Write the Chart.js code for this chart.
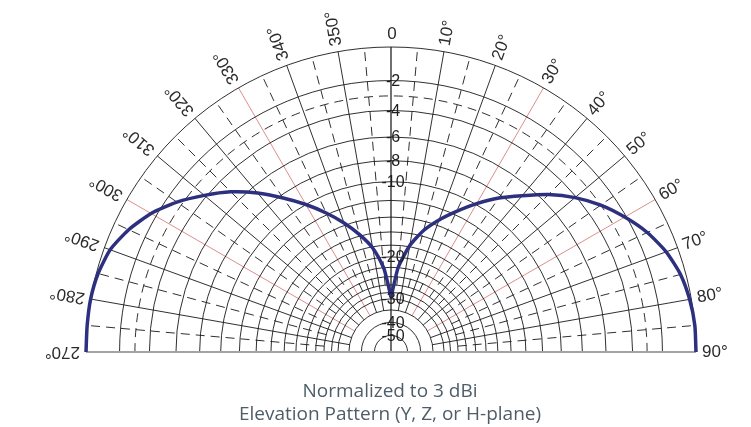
<!DOCTYPE html>
<html>
<head>
<meta charset="utf-8">
<script src="https://cdn.jsdelivr.net/npm/chart.js@4"></script>
<style>
html, body { margin: 0; padding: 0; background: #fff; }
#wrap { position: relative; width: 751px; height: 427px; }
#patternChart { position: absolute; left: 0; top: 0; }
.caption { position: absolute; left: 0; width: 780px; text-align: center; font-family: "Open Sans"; font-size: 19px; color: #4f5d68; line-height: 20px; }
</style>
</head>
<body>
<div id="wrap">
    <canvas id="patternChart" width="751" height="427"></canvas>
    <div class="caption" style="top:380px">Normalized to 3 dBi</div>
    <div class="caption" style="top:403px">Elevation Pattern (Y, Z, or H-plane)</div>
</div>
<script>
// 方向图数据：角度(从正上方顺时针, 度) 与 归一化增益(dB)
var leftAngles  = [270, 275, 280, 285, 290, 295, 300, 305, 310, 315, 320, 325, 330, 335, 340, 345, 350, 355, 357, 360];
var leftGain    = [0, 0, 0, -0.1, -0.35, -0.9, -1.65, -2.65, -3.85, -5.1, -6.6, -8.3, -10.0, -11.8, -13.7, -15.8, -18.2, -22.0, -25, -29.5];
var rightAngles = [0, 3, 5, 10, 15, 20, 25, 30, 35, 40, 45, 50, 55, 60, 65, 70, 75, 80, 85, 90];
var rightGain   = [-29.5, -25, -21.8, -17.8, -15.2, -13.3, -11.6, -9.9, -8.3, -6.9, -5.4, -4.1, -3.0, -2.1, -1.3, -0.7, -0.3, -0.1, 0, 0];

// 网格: 圆环(dB) 与 角度刻度
var solidRings  = [0, -2, -4, -6, -8, -10, -12, -14, -16, -18, -20, -22, -24, -26, -28, -30, -34, -40, -50];
var dashedRings = [-3];
var ringLabels  = [-2, -4, -6, -8, -10, -20, -30, -40, -50];
var angleTicks  = [270, 280, 290, 300, 310, 320, 330, 340, 350, 0, 10, 20, 30, 40, 50, 60, 70, 80, 90];
var dashedSpokes = [275, 285, 295, 305, 315, 325, 335, 345, 355, 5, 15, 25, 35, 45, 55, 65, 75, 85];
var redSpokes   = [300, 330, 30, 60];

// ARRL 对数刻度: 每 2 dB 半径乘 0.89
function dbToR(db) {
    return Math.pow(0.89, -db / 2);
}

function toXY(angle, db) {
    var a = angle * Math.PI / 180;
    var r = dbToR(db);
    return { x: r * Math.sin(a), y: r * Math.cos(a) };
}

function buildPoints(angles, gains) {
    var pts = [];
    for (var i = 0; i < angles.length; i++) {
        pts.push(toXY(angles[i], gains[i]));
    }
    return pts;
}

// 画极坐标网格 (用 chart 的 x/y 比例尺换算像素)
var polarGrid = {
    id: 'polarGrid',
    beforeDatasetsDraw: function (chart) {
        var ctx = chart.ctx;
        var xs = chart.scales.x, ys = chart.scales.y;
        var cx = xs.getPixelForValue(0), cy = ys.getPixelForValue(0);
        function px(angle, db) {
            var p = toXY(angle, db);
            return [xs.getPixelForValue(p.x), ys.getPixelForValue(p.y)];
        }
        function rad(db) {
            return xs.getPixelForValue(dbToR(db)) - cx;
        }
        function spoke(angle, fromDb, color, dash) {
            var a = px(angle, fromDb), b = px(angle, 0);
            ctx.strokeStyle = color;
            ctx.setLineDash(dash);
            ctx.beginPath();
            ctx.moveTo(a[0], a[1]);
            ctx.lineTo(b[0], b[1]);
            ctx.stroke();
        }
        ctx.save();
        ctx.lineWidth = 1;

        // 虚线径向线
        dashedSpokes.forEach(function (ang) {
            spoke(ang, -26, 'rgba(25,25,25,0.9)', [9, 6]);
        });
        // 实线径向线
        angleTicks.forEach(function (ang) {
            if (ang === 270 || ang === 90 || ang === 0) return;
            if (redSpokes.indexOf(ang) >= 0) return;
            spoke(ang, -34, 'rgba(25,25,25,0.9)', []);
        });
        redSpokes.forEach(function (ang) {
            spoke(ang, -34, '#dc8e8e', []);
        });

        // 圆环
        ctx.strokeStyle = 'rgba(25,25,25,0.9)';
        ctx.setLineDash([]);
        solidRings.forEach(function (db) {
            ctx.beginPath();
            ctx.arc(cx, cy, rad(db), Math.PI, 2 * Math.PI);
            ctx.stroke();
        });
        ctx.setLineDash([9, 6]);
        dashedRings.forEach(function (db) {
            ctx.beginPath();
            ctx.arc(cx, cy, rad(db), Math.PI, 2 * Math.PI);
            ctx.stroke();
        });
        ctx.setLineDash([]);

        // 0 度轴
        var top = px(0, 0);
        ctx.strokeStyle = '#111';
        ctx.lineWidth = 1.2;
        ctx.beginPath();
        ctx.moveTo(cx, cy);
        ctx.lineTo(top[0], top[1]);
        ctx.stroke();

        // 底边
        var l = px(270, 0), r = px(90, 0);
        ctx.strokeStyle = '#a3a3a3';
        ctx.lineWidth = 2;
        ctx.beginPath();
        ctx.moveTo(l[0], cy);
        ctx.lineTo(r[0], cy);
        ctx.stroke();
        ctx.restore();
    },
    afterDatasetsDraw: function (chart) {
        var ctx = chart.ctx;
        var xs = chart.scales.x, ys = chart.scales.y;
        var cx = xs.getPixelForValue(0), cy = ys.getPixelForValue(0);
        var R = xs.getPixelForValue(1) - cx;
        ctx.save();

        // 角度标签
        ctx.fillStyle = '#2b2b2b';
        ctx.font = '17px "Liberation Sans", Arial, sans-serif';
        ctx.textBaseline = 'middle';
        angleTicks.forEach(function (ang) {
            if (ang === 0) {
                ctx.textAlign = 'center';
                ctx.fillText('0', cx + 1, cy - R - 13);
                return;
            }
            ctx.save();
            ctx.translate(cx, cy);
            ctx.rotate((ang - 90) * Math.PI / 180);
            ctx.textAlign = 'left';
            ctx.fillText(ang + '°', R + 6, 0);
            ctx.restore();
        });

        // dB 标签
        ctx.font = '16px "Liberation Sans", Arial, sans-serif';
        ctx.textAlign = 'center';
        ctx.fillStyle = '#1e1e1e';
        ringLabels.forEach(function (db) {
            var y = ys.getPixelForValue(dbToR(db));
            ctx.fillText(String(db), cx + 2, y + 1);
        });
        ctx.restore();
    }
};

var ctx = document.getElementById('patternChart').getContext('2d');
var lineStyle = {
    showLine: true,
    borderColor: '#2d307e',
    borderWidth: 3.5,
    pointRadius: 0,
    tension: 0.2,
    clip: false
};

var patternChart = new Chart(ctx, {
    type: 'scatter',
    data: {
        datasets: [
            Object.assign({ label: 'left', data: buildPoints(leftAngles, leftGain) }, lineStyle),
            Object.assign({ label: 'right', data: buildPoints(rightAngles, rightGain) }, lineStyle)
        ]
    },
    options: {
        responsive: false,
        animation: false,
        layout: { padding: { left: 86, right: 55, top: 47, bottom: 75 } },
        scales: {
            x: { type: 'linear', min: -1, max: 1, display: false },
            y: { type: 'linear', min: 0, max: 1, display: false }
        },
        plugins: {
            legend: { display: false },
            tooltip: { enabled: false }
        }
    },
    plugins: [polarGrid]
});
</script>
</body>
</html>
